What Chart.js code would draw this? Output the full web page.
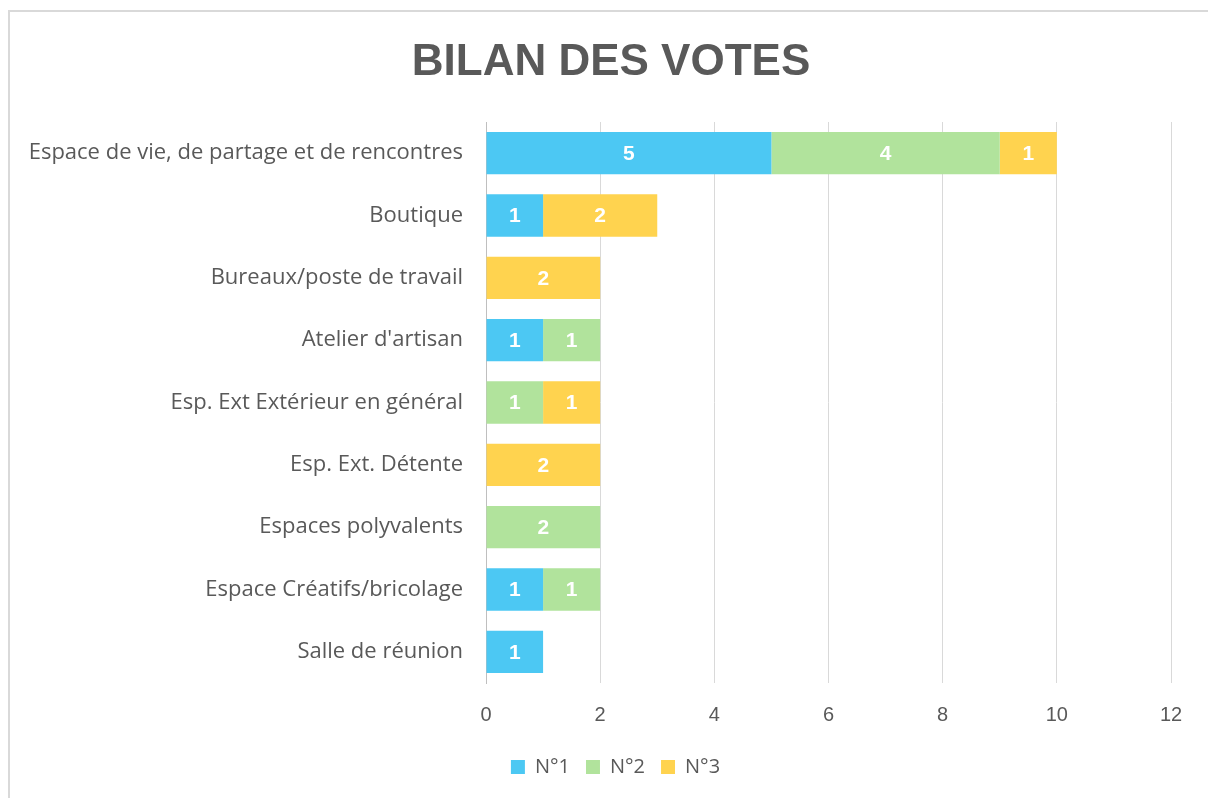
<!DOCTYPE html>
<html>
<head>
<meta charset="utf-8">
<script src="https://cdn.jsdelivr.net/npm/chart.js@4"></script>
<style>
  body { margin: 0; background: #fff; }
  #wrap { position: relative; width: 1208px; height: 798px; overflow: hidden; }
  #frame { position: absolute; left: 8px; top: 10px; width: 1300px; height: 900px; border: 2px solid #d9d9d9; box-sizing: border-box; pointer-events: none; }
  canvas { position: absolute; left: 0; top: 0; }
</style>
</head>
<body>
<div id="wrap">
  <canvas id="votesChart" width="1208" height="798"></canvas>
  <div id="frame"></div>
</div>
<script>
const categories = [
    'Espace de vie, de partage et de rencontres',
    'Boutique',
    'Bureaux/poste de travail',
    "Atelier d'artisan",
    'Esp. Ext Extérieur en général',
    'Esp. Ext. Détente',
    'Espaces polyvalents',
    'Espace Créatifs/bricolage',
    'Salle de réunion'
];
const votesN1 = [5, 1, 0, 1, 0, 0, 0, 1, 1];
const votesN2 = [4, 0, 0, 1, 1, 0, 2, 1, 0];
const votesN3 = [1, 2, 2, 0, 1, 2, 0, 0, 0];
const seriesNames = ['N°1', 'N°2', 'N°3'];
const chartTitle = 'BILAN DES VOTES';

const textGrey = '#595959';
const fontFam = '"Liberation Sans", Arial, sans-serif';
const labelFam = '"Open Sans", "Liberation Sans", sans-serif';

// white value labels in the middle of each segment, plus the title
const barLabels = {
    id: 'barLabels',
    afterLayout(chart) {
        // centre the legend under the frame rather than the canvas
        if (chart.legend) chart.legend.left = 60;
    },
    afterDatasetsDraw(chart) {
        const ctx = chart.ctx;
        ctx.save();
        ctx.fillStyle = '#fff';
        ctx.font = 'bold 21px ' + fontFam;
        ctx.textAlign = 'center';
        ctx.textBaseline = 'middle';
        chart.data.datasets.forEach((ds, i) => {
            const meta = chart.getDatasetMeta(i);
            meta.data.forEach((bar, j) => {
                const v = ds.data[j];
                if (!v) return;
                const p = bar.getProps(['x', 'y', 'base'], true);
                ctx.fillText(String(v), (p.x + p.base) / 2, p.y + 1);
            });
        });
        // title centred on the frame
        ctx.fillStyle = textGrey;
        ctx.font = 'bold 44px ' + fontFam;
        ctx.textBaseline = 'alphabetic';
        ctx.fillText(chartTitle, 611, 75);
        ctx.restore();
    }
};

const ctx = document.getElementById('votesChart').getContext('2d');

new Chart(ctx, {
    type: 'bar',
    data: {
        labels: categories,
        datasets: [
            { label: seriesNames[0], data: votesN1, backgroundColor: '#4cc8f3' },
            { label: seriesNames[1], data: votesN2, backgroundColor: '#b1e39c' },
            { label: seriesNames[2], data: votesN3, backgroundColor: '#ffd34f' }
        ]
    },
    options: {
        indexAxis: 'y',
        responsive: false,
        animation: false,
        datasets: { bar: { categoryPercentage: 1, barPercentage: 0.68 } },
        layout: { padding: { left: 0, right: 37, top: 122, bottom: 11 } },
        scales: {
            x: {
                stacked: true,
                min: 0,
                max: 12,
                ticks: { stepSize: 2, color: textGrey, padding: 20, font: { size: 20, family: fontFam } },
                grid: { color: '#d9d9d9', drawTicks: false },
                border: { display: false },
                afterFit(s) { s.height -= 6; }
            },
            y: {
                stacked: true,
                ticks: { color: textGrey, padding: 15, font: { size: 22, family: labelFam } },
                grid: { display: false },
                border: { color: '#bfbfbf', width: 1 },
                afterFit(s) { s.width = 486; }
            }
        },
        plugins: {
            title: { display: false },
            legend: {
                position: 'bottom',
                labels: { color: textGrey, boxWidth: 14, boxHeight: 14, padding: 16, font: { size: 20, family: labelFam } }
            },
            tooltip: { enabled: false }
        }
    },
    plugins: [barLabels]
});
</script>
</body>
</html>
